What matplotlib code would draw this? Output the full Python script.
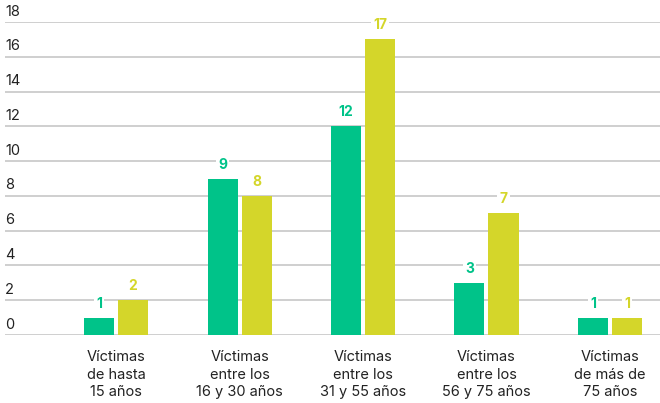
import matplotlib

matplotlib.use("Agg")
import matplotlib.pyplot as plt
import matplotlib.transforms as mtransforms
import numpy as np

categories = [
    "Víctimas\nde hasta\n15 años",
    "Víctimas\nentre los\n16 y 30 años",
    "Víctimas\nentre los\n31 y 55 años",
    "Víctimas\nentre los\n56 y 75 años",
    "Víctimas\nde más de\n75 años",
]
serie_a = [1, 9, 12, 3, 1]
serie_b = [2, 8, 17, 7, 1]
yticks = [0, 2, 4, 6, 8, 10, 12, 14, 16, 18]

GREEN = "#00c389"
YELLOW = "#d4d62a"

plt.rcParams["font.family"] = ["Inter", "DejaVu Sans"]

fig = plt.figure(figsize=(6.6, 4.03), dpi=100)
ax = fig.add_axes([5 / 660, 1 - 335 / 403, 655 / 660, (335 - 22) / 403])

x = np.arange(len(categories))
w = 0.243
off = 0.1377

bars_a = ax.bar(x - off, serie_a, w, color=GREEN, zorder=3)
bars_b = ax.bar(x + off, serie_b, w, color=YELLOW, zorder=3)

for bars, vals, c in [(bars_a, serie_a, GREEN), (bars_b, serie_b, YELLOW)]:
    for b, v in zip(bars, vals):
        ax.text(b.get_x() + b.get_width() / 2, v + 0.4, str(v),
                ha="center", va="bottom", fontsize=10, fontweight="bold",
                color=c, zorder=4,
                bbox=dict(facecolor="white", edgecolor="none", pad=1.5))

ax.set_xlim(-0.899, 4.405)
ax.set_ylim(0, 18)

for v in yticks:
    ax.axhline(v, color="#cccccc", lw=1.3, zorder=1)
trans = mtransforms.blended_transform_factory(ax.transAxes, ax.transData)
for v in yticks:
    ax.text(0, v + 0.2, str(v), transform=trans, ha="left", va="bottom",
            fontsize=10.5, color="#222222")

ax.set_xticks(x)
ax.set_xticklabels(categories, fontsize=10.5, color="#222222", linespacing=1.3)
ax.tick_params(axis="x", length=0, pad=11)
ax.set_yticks([])
for s in ax.spines.values():
    s.set_visible(False)

fig.savefig("out.png", dpi=100)
plt.close(fig)
